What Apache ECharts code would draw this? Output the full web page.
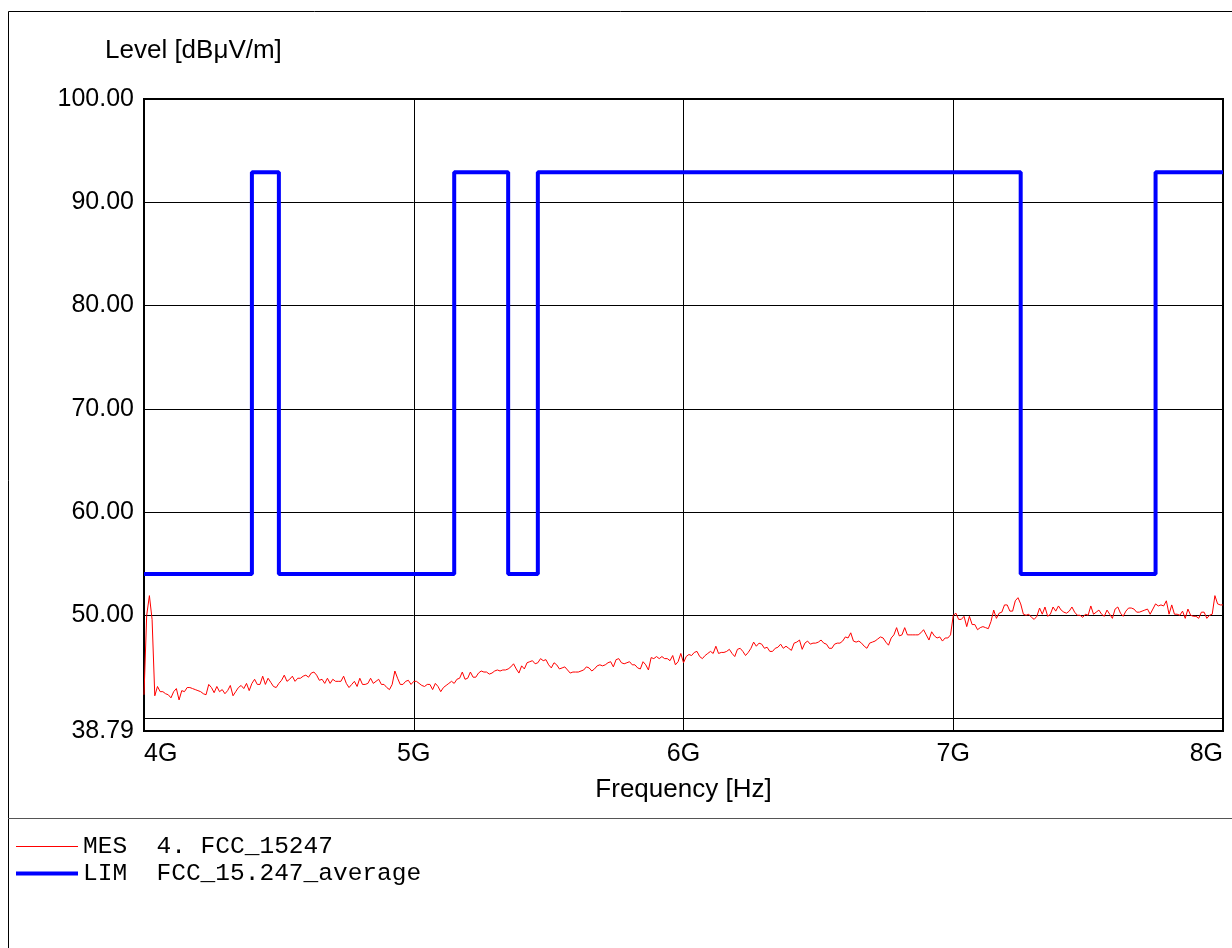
<!DOCTYPE html>
<html>
<head>
<meta charset="utf-8">
<script src="https://cdn.jsdelivr.net/npm/echarts@6/dist/echarts.min.js"></script>
<style>
html,body{margin:0;padding:0;background:#fff;}
#c{width:1232px;height:948px;}
</style>
</head>
<body>
<div id="c"></div>
<script>
// ---- chart texts ----
const yTitle = 'Level [dBμV/m]';
const xTitle = 'Frequency [Hz]';
const mesName = 'MES  4. FCC_15247';
const limName = 'LIM  FCC_15.247_average';

// ---- axes ----
const xMinHz = 4e9, xMaxHz = 8e9, xStepHz = 1e9;
const yMin = 38.79, yMax = 100;
const yGridValues = [40, 50, 60, 70, 80, 90, 100];
const yLabelValues = [38.79, 50, 60, 70, 80, 90, 100];

// ---- limit line (FCC 15.247 average), level holds from each start frequency ----
const limitStartGHz = [4.0, 4.4, 4.5, 5.15, 5.35, 5.46, 7.25, 7.75, 8.0];
const limitLevel    = [54, 92.9, 54, 92.9, 54, 92.9, 54, 92.9, 92.9];

// ---- measured trace: sweep start, step, levels ----
const measStartHz = 4e9;
const measStepHz = 1e7;
const measLevel = [
42.3,50.0,51.9,49.6,42.2,43.1,42.6,42.6,42.4,42.3,
42.0,42.6,42.9,41.8,42.7,42.6,43.0,43.0,42.9,42.8,
42.7,42.6,42.4,42.3,43.3,43.0,42.5,43.1,42.6,42.8,
42.4,42.7,43.2,42.2,42.6,43.0,43.2,42.9,43.4,42.7,
43.4,43.8,43.3,43.3,44.1,43.3,43.9,43.5,43.1,43.0,
43.4,43.7,44.2,43.6,43.8,44.1,43.6,43.9,43.9,44.1,
44.2,44.0,44.4,44.5,44.2,43.7,43.8,43.4,43.9,43.4,
43.8,43.6,43.6,43.6,44.1,43.4,43.0,43.3,43.6,43.1,
43.9,43.3,43.3,43.4,43.9,43.4,43.6,43.8,43.3,43.3,
43.0,42.8,43.3,44.6,43.9,43.3,43.3,43.6,43.7,43.3,
43.6,43.6,43.4,43.2,43.1,43.3,43.3,42.8,43.4,43.1,
42.6,43.0,43.2,43.4,43.6,43.4,43.8,43.9,44.5,43.8,
43.9,44.5,44.0,44.0,44.4,44.6,44.5,44.5,44.3,44.4,
44.6,44.7,44.6,44.7,44.7,44.8,45.0,45.3,44.8,44.4,
45.1,44.8,45.4,45.5,45.6,45.3,45.4,45.8,45.6,45.7,
45.2,44.9,45.4,45.2,44.8,44.9,45.0,44.7,44.4,44.5,
44.5,44.5,44.6,44.7,45.0,44.9,44.6,44.8,45.1,45.2,
45.1,45.2,45.4,45.5,45.0,45.7,45.8,45.4,45.3,45.4,
45.5,45.2,45.2,44.9,44.8,45.5,45.2,44.7,45.9,45.8,
46.0,45.8,46.0,45.8,45.8,45.6,46.1,45.2,45.5,46.3,
45.4,46.0,46.2,46.1,46.4,46.5,46.0,45.8,46.1,46.3,
46.5,46.3,47.0,46.3,46.4,46.4,46.5,46.7,46.3,46.0,
46.7,46.8,46.5,46.1,46.4,46.8,47.4,47.0,47.3,47.2,
46.8,46.9,46.5,46.5,46.8,46.9,47.2,46.8,47.0,46.8,
46.6,47.3,47.4,47.6,46.7,47.3,47.5,47.2,47.3,47.3,
47.4,47.6,47.3,47.2,46.8,46.8,47.2,47.3,47.3,47.5,
47.9,47.8,48.3,47.5,47.4,47.5,47.3,47.0,46.8,47.3,
47.4,47.5,47.7,47.9,47.8,47.4,47.1,47.8,48.1,48.8,
48.0,48.1,48.8,48.1,48.1,48.1,48.1,48.1,48.3,48.6,
48.1,47.6,48.4,48.0,47.8,47.9,47.5,47.8,47.8,48.1,
50.0,50.2,49.6,49.6,49.9,48.9,49.9,49.1,49.1,48.6,
48.8,48.9,48.8,48.7,49.4,50.5,49.7,50.2,50.3,51.0,
51.0,50.4,50.4,51.4,51.7,51.1,50.1,50.0,50.1,49.8,
49.6,49.9,50.7,50.1,50.8,49.9,50.1,50.8,50.4,50.9,
50.5,50.3,50.2,50.4,50.8,50.3,50.0,50.0,49.8,50.1,
50.0,50.9,50.1,50.3,50.5,50.1,49.9,50.5,50.1,49.7,
50.6,50.8,50.2,49.9,50.4,50.7,50.7,50.6,50.3,50.3,
50.4,50.5,50.6,50.1,50.6,51.1,50.9,51.0,50.9,51.4,
50.1,51.0,50.1,50.1,50.0,50.4,49.7,50.6,50.0,49.9,
49.9,49.7,50.3,50.3,49.7,50.0,50.1,51.9,51.1,51.0,
51.0
];

// ---- build series data ----
const measData = measLevel.map((v, i) => [measStartHz + i * measStepHz, v]);
const limitData = limitStartGHz.map((f, i) => [f * 1e9, limitLevel[i]]);

const sansFont = '"Liberation Sans", Arial, Helvetica, sans-serif';
const monoFont = '"Liberation Mono", "Courier New", monospace';

const chart = echarts.init(document.getElementById('c'), null, {width: 1232, height: 948});
chart.setOption({
  animation: false,
  backgroundColor: '#ffffff',
  title: {
    text: yTitle,
    left: 105,
    top: 38,
    padding: 0,
    textStyle: {fontFamily: sansFont, fontSize: 26, fontWeight: 'normal', color: '#000'}
  },
  legend: {
    orient: 'vertical',
    left: 14,
    top: 834,
    padding: 0,
    itemWidth: 62,
    itemHeight: 14,
    itemGap: 2,
    itemStyle: {opacity: 0},
    data: [
      {name: mesName, lineStyle: {width: 1, color: '#ff0000'}},
      {name: limName, lineStyle: {width: 4, color: '#0000ff'}}
    ],
    textStyle: {fontFamily: monoFont, fontSize: 24.5, color: '#000'}
  },
  grid: {
    left: 144,
    top: 99,
    width: 1079,
    height: 632,
    show: true,
    borderColor: '#000',
    borderWidth: 2,
    backgroundColor: 'transparent'
  },
  xAxis: {
    type: 'value',
    min: xMinHz,
    max: xMaxHz,
    interval: xStepHz,
    name: xTitle,
    nameLocation: 'middle',
    nameGap: 46,
    nameTextStyle: {fontFamily: sansFont, fontSize: 26, color: '#000'},
    axisLine: {show: true, lineStyle: {color: '#000', width: 2}},
    axisTick: {show: false},
    splitLine: {show: true, lineStyle: {color: '#000', width: 1}},
    axisLabel: {
      fontFamily: sansFont, fontSize: 25, color: '#000', margin: 11,
      alignMinLabel: 'left', alignMaxLabel: 'right',
      formatter: v => (v / 1e9) + 'G'
    }
  },
  yAxis: {
    type: 'value',
    min: yMin,
    max: yMax,
    axisLine: {show: false},
    axisTick: {show: false, customValues: yGridValues},
    splitLine: {show: true, lineStyle: {color: '#000', width: 1}},
    axisLabel: {
      fontFamily: sansFont, fontSize: 25, color: '#000', margin: 10,
      customValues: yLabelValues,
      formatter: v => Number(v).toFixed(2)
    }
  },
  series: [
    {
      name: mesName,
      type: 'line',
      data: measData,
      symbol: 'none',
      lineStyle: {color: '#ff0000', width: 1},
      itemStyle: {color: '#ff0000'},
      z: 3
    },
    {
      name: limName,
      type: 'line',
      step: 'end',
      data: limitData,
      symbol: 'none',
      lineStyle: {color: '#0000ff', width: 4},
      itemStyle: {color: '#0000ff'},
      z: 4
    }
  ],
  graphic: [
    {
      type: 'rect',
      silent: true,
      shape: {x: 8.5, y: 11.5, width: 1300, height: 1000},
      style: {fill: 'none', stroke: '#000', lineWidth: 1}
    },
    {
      type: 'line',
      silent: true,
      shape: {x1: 8, y1: 818.5, x2: 1232, y2: 818.5},
      style: {stroke: '#555', lineWidth: 1}
    }
  ]
});
</script>
</body>
</html>
